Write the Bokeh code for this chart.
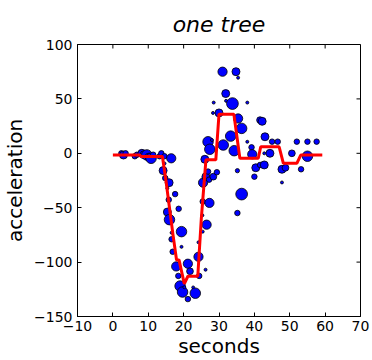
import math
from bokeh.plotting import figure
from bokeh.models import Range1d, FixedTicker, ColumnDataSource
from bokeh.embed import file_html
from bokeh.resources import INLINE

# ---- data ----
seconds = [2.4, 3.0, 3.6, 6.2, 6.8, 8.2, 8.8, 9.6, 10.2, 10.8, 11.4, 13.2, 13.7, 14.6,
           16.5, 14.2, 14.6, 14.8,
           15.9, 15.4, 17.6, 15.8, 18.6, 15.4, 16.0, 16.6, 16.6, 16.9, 19.4, 19.4, 17.9,
           18.5, 19.0, 19.7, 20.2, 21.2, 21.8, 21.2, 22.7, 23.3, 24.4, 24.2, 24.2, 26.2,
           25.4, 26.5, 25.3, 25.4, 27.3, 25.5, 26.3, 27.2, 28.4, 29.4, 26.9,
           26.0, 26.9, 27.4, 28.0, 28.3, 28.5, 30.0, 31.0, 31.2, 31.9, 32.0, 33.3, 33.8,
           34.3, 34.8, 35.4, 35.4, 36.4, 38.0, 38.0, 39.2, 39.4, 41.6, 42.2, 43.0, 42.8,
           44.4, 45.0, 46.6, 50.6, 52.0, 55.0, 57.6, 55.0, 40.4, 41.6, 42.8, 35.2, 40.0,
           47.8, 48.8, 53.2, 47.8, 36.4, 35.2]
acceleration = [0.0, -1.6, 0.0, -2.7, -1.3, 0.0, -1.3, -1.5, -3.5, -4.6, -1.3, -2.7, 0.0, -2.7,
                -4.6, -15.9, -9.3, -22.8,
                -27.0, -32.1, -37.5, -42.7, -51.0, -54.0, -61.0, -73.0, -79.0, -90.5, -72.0, -86.0, -104.0,
                -112.7, -122.0, -127.5, -123.1, -101.5, -108.4, -134.0, -123.3, -128.6, -112.7, -95.1, -81.8, -107.0,
                -72.0, -65.6, -57.0, -44.3, -45.6, -27.0, -21.5, -24.2, -21.5, -17.4, -16.8,
                -5.5, 10.6, 3.7, 12.2, 37.1, 46.6, 37.1, 75.0, 7.6, 54.9, 48.2, 15.8, 45.7,
                2.4, 75.0, 69.5, 32.0, 22.9, 46.6, 10.6, 5.5, -0.9, 30.5, 29.4, 15.2, 0.0,
                0.0, 10.7, 10.7, 0.0, 10.7, 10.7, 10.7, -2.7, -13.3, -10.7, -10.7, -16.0, -21.5,
                -14.7, -13.3, -14.7, -26.8, -37.5, -54.9]
weight = [2, 3, 2, 2, 2, 3, 3, 4, 3, 4, 2, 2, 2, 2,
          3.5, 3, 1, 2,
          3, 1, 2, 2, 2, 3, 4, 1, 2, 2, 4, 1, 3.5,
          2, 4, 4, 1, 3.5, 2.5, 2, 1, 4, 2, 3.5, 1, 1,
          1, 3.5, 1, 2, 3.5, 3.5, 3, 2, 2.5, 2, 2,
          3, 4, 4, 1, 1, 1, 3, 3.5, 4, 3, 1, 4, 4.5,
          4, 3, 1, 3.5, 4, 1, 1, 2, 3.5, 2.5, 3, 3, 1,
          3, 2, 2, 2.5, 2, 2, 2, 4, 3, 2, 3, 1.5, 2,
          3, 2.5, 2, 1, 4.5, 2]

tree_seconds = [0, 7.5, 8, 14, 15, 16, 17, 18, 18.7, 20.2, 21.2, 24.0, 25, 26.3, 29.1,
                30.0, 34.2, 35.9, 41.1, 41.8, 47.0, 48.2, 52.0, 53.1, 59.2]
tree_accel = [-1.5, -1.5, -3, -3, -25, -50, -75, -98, -98, -120, -113, -113, -60, -6, -6,
              36, 36, -4.6, -4.6, 6, 6, -9.2, -9.2, -1.6, -1.6]

x_ticks = [-10, 0, 10, 20, 30, 40, 50, 60, 70]
y_ticks = [-150, -100, -50, 0, 50, 100]
x_lim = (-10, 70)
y_lim = (-150, 100)

title_text = "one tree"
x_label = "seconds"
y_label = "acceleration"


def fmt(v):
    return ("\u2212" + str(-v)) if v < 0 else str(v)


FONT = "DejaVu Sans"
TICK = 4

p = figure(width=372, height=360, output_backend="svg", toolbar_location=None,
           x_range=Range1d(*x_lim), y_range=Range1d(*y_lim),
           min_border_left=77, min_border_right=12, min_border_top=44, min_border_bottom=43,
           title=title_text)
p.title.text_font = FONT
p.title.text_font_style = "italic"
p.title.text_font_size = "22px"
p.title.align = "center"
p.title.text_color = "black"
p.title.standoff = 16

p.grid.visible = False
p.outline_line_color = "black"
p.outline_line_alpha = 1
p.outline_line_width = 1
p.background_fill_color = "white"
p.border_fill_color = "white"

for ax, ticks, label in ((p.xaxis[0], x_ticks, x_label), (p.yaxis[0], y_ticks, y_label)):
    ax.ticker = FixedTicker(ticks=ticks)
    ax.major_label_overrides = {t: fmt(t) for t in ticks}
    ax.major_tick_in = TICK
    ax.major_tick_out = 0
    ax.minor_tick_in = 0
    ax.minor_tick_out = 0
    ax.major_tick_line_color = "black"
    ax.axis_line_color = "black"
    ax.major_label_text_font = FONT
    ax.major_label_text_font_size = "14px"
    ax.major_label_text_color = "black"
    ax.major_label_standoff = 4
    ax.axis_label = label
    ax.axis_label_text_font = FONT
    ax.axis_label_text_font_size = "20px"
    ax.axis_label_text_font_style = "normal"
    ax.axis_label_text_color = "black"
p.xaxis[0].axis_label_standoff = 0
p.yaxis[0].major_label_standoff = 5
p.yaxis[0].axis_label_standoff = 4

# inward ticks on the top and right edges of the frame
p.ray(x=x_ticks, y=[y_lim[1]] * len(x_ticks), length=TICK, length_units="screen",
      angle=-math.pi / 2, line_color="black", line_width=1)
p.ray(x=[x_lim[1]] * len(y_ticks), y=y_ticks, length=TICK, length_units="screen",
      angle=math.pi, line_color="black", line_width=1)

src = ColumnDataSource(dict(x=seconds, y=acceleration,
                            s=[2.5 * w + 0.5 for w in weight]))
p.scatter("x", "y", size="s", source=src, fill_color="#0000ff", line_color="black",
          line_width=0.8)
p.line(tree_seconds, tree_accel, line_color="red", line_width=3)

open("out.html", "w").write(file_html(p, INLINE))
